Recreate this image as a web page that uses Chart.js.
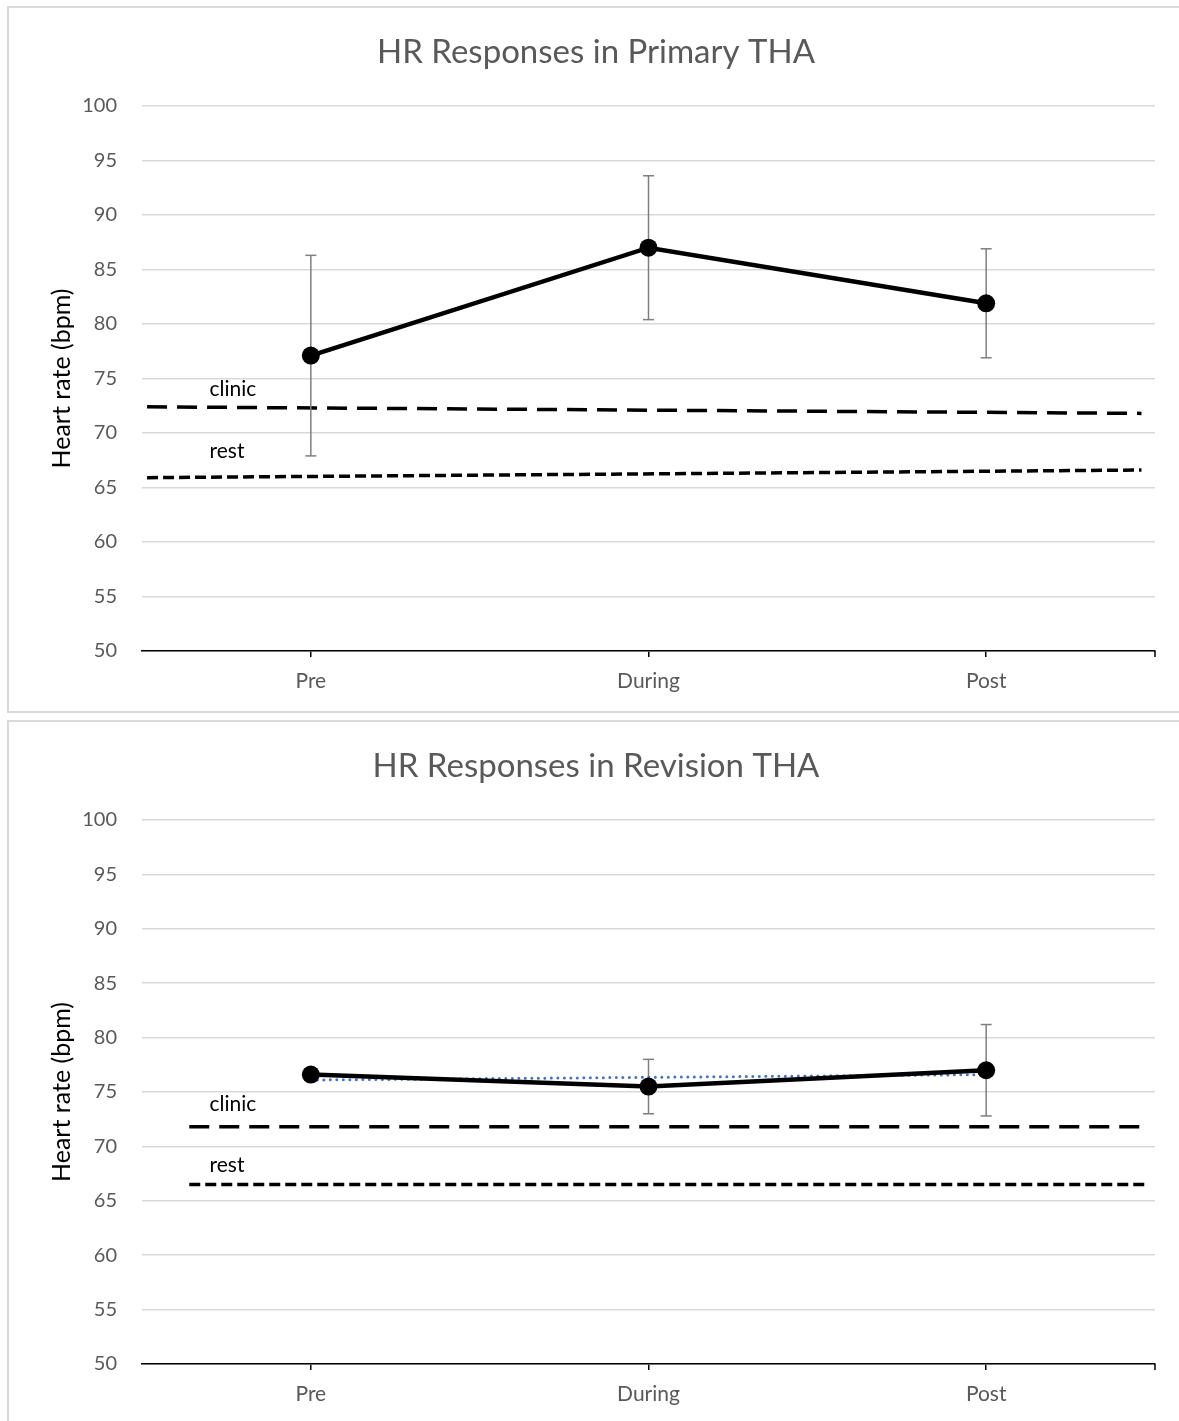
<!DOCTYPE html>
<html><head><meta charset="utf-8">
<script src="https://cdn.jsdelivr.net/npm/chart.js@4.4.0/dist/chart.umd.min.js"></script>
<style>
html,body{margin:0;padding:0;background:#fff;width:1179px;height:1421px;overflow:hidden;position:relative}
.box{position:absolute;left:7px;border:2px solid #d9d9d9;width:1300px;}
#b1{top:6px;height:703px}
#b2{top:720px;height:800px}
canvas{position:absolute;left:0}
#c1{top:0}
#c2{top:716px}
</style></head><body>
<div class="box" id="b1"></div><div class="box" id="b2"></div>
<canvas id="c1" width="1179" height="716"></canvas>
<canvas id="c2" width="1179" height="705"></canvas>
<script>
// ---- data ----
const categories = ['Pre', 'During', 'Post'];
const yTickMin = 50, yTickMax = 100, yTickStep = 5;

const primaryTitle = 'HR Responses in Primary THA';
const primaryMean = [77.1, 87.0, 81.9];
const primaryErr = [9.2, 6.6, 5.0];
const primaryClinic = [72.4, 71.8];
const primaryRest = [65.9, 66.6];
const primaryRefX = [-0.485, 2.46];
const primaryLabelY = [74.0, 68.35];

const revisionTitle = 'HR Responses in Revision THA';
const revisionMean = [76.6, 75.5, 77.0];
const revisionErr = [0.4, 2.5, 4.2];
const revisionTrend = [76.1, 76.35, 76.6];
const revisionClinic = [71.8, 71.8];
const revisionRest = [66.5, 66.5];
const revisionRefX = [-0.36, 2.48];
const revisionLabelY = [73.9, 68.3];

const refLabels = ['clinic', 'rest'];
const refLabelX = -0.3;
const yAxisTitle = 'Heart rate (bpm)';

// ---- drawing ----
const FONT = 'Lato, "Open Sans", sans-serif';

const labelPlugin = {
  id: 'refLabels',
  afterDatasetsDraw(chart, args, opts) {
    const ctx = chart.ctx, xs = chart.scales.x2, ys = chart.scales.y;
    ctx.save();
    ctx.font = '21px ' + FONT;
    ctx.fillStyle = '#000';
    ctx.textAlign = 'left';
    ctx.textBaseline = 'middle';
    opts.texts.forEach((t, i) => ctx.fillText(t, xs.getPixelForValue(opts.x), ys.getPixelForValue(opts.ys[i])));
    // end tick on x axis
    const a = chart.chartArea;
    ctx.strokeStyle = '#000'; ctx.lineWidth = 1.5;
    ctx.beginPath(); ctx.moveTo(a.right, a.bottom); ctx.lineTo(a.right, a.bottom + 6); ctx.stroke();
    // chart title, centred on the chart frame
    ctx.font = '33px ' + FONT;
    ctx.fillStyle = '#595959';
    ctx.textAlign = 'center';
    ctx.fillText(opts.title, opts.titleX, opts.titleY);
    ctx.restore();
  }
};

function build(id, title, mean, err, clinic, rest, refX, labelY, trend, dims) {
  const eb = [];
  mean.forEach((m, i) => { eb.push({x: i, y: m - err[i]}, {x: i, y: m + err[i]}, {x: i, y: null}); });
  const datasets = [{
    data: mean, xAxisID: 'x', yAxisID: 'y', borderColor: '#000', backgroundColor: '#000',
    borderWidth: 4.5, pointRadius: 9, pointBackgroundColor: '#000', pointBorderWidth: 0, tension: 0
  }];
  if (trend) datasets.push({
    data: trend, xAxisID: 'x', yAxisID: 'y', borderColor: '#4472c4', borderWidth: 3,
    borderDash: [0, 6.5], borderCapStyle: 'round', pointRadius: 0
  });
  datasets.push({
    data: eb, xAxisID: 'x2', yAxisID: 'y', borderColor: '#7f7f7f', borderWidth: 1.5, spanGaps: false,
    pointStyle: 'line', pointRadius: 5.5, pointBorderColor: '#7f7f7f', pointBorderWidth: 1.5
  });
  datasets.push({
    data: [{x: refX[0], y: clinic[0]}, {x: refX[1], y: clinic[1]}], xAxisID: 'x2', yAxisID: 'y',
    borderColor: '#000', borderWidth: 3.5, borderDash: [20, 10], pointRadius: 0
  });
  datasets.push({
    data: [{x: refX[0], y: rest[0]}, {x: refX[1], y: rest[1]}], xAxisID: 'x2', yAxisID: 'y',
    borderColor: '#000', borderWidth: 3.5, borderDash: [11, 5], pointRadius: 0
  });
  return new Chart(document.getElementById(id), {
    type: 'line',
    data: {labels: categories, datasets},
    plugins: [labelPlugin],
    options: {
      responsive: false, animation: false, devicePixelRatio: 1,
      layout: {padding: {top: dims.top, right: 24, left: 0, bottom: 0}},
      plugins: {
        legend: {display: false}, tooltip: {enabled: false}, title: {display: false},
        refLabels: {texts: refLabels, x: refLabelX, ys: labelY, title: title, titleX: 596, titleY: dims.ty}
      },
      scales: {
        x: {type: 'category', offset: true,
          grid: {display: true, drawOnChartArea: false, drawTicks: true, tickLength: 6, color: '#000', lineWidth: 1.5, offset: false},
          border: {display: true, color: '#000', width: 1.5},
          ticks: {color: '#595959', font: {family: FONT, size: 21}, padding: 12},
          afterFit: s => { s.height = dims.xh; }},
        x2: {type: 'linear', display: false, min: -0.5, max: 2.5},
        y: {min: yTickMin, max: yTickMax,
          ticks: {stepSize: yTickStep, color: '#595959', font: {family: FONT, size: 20}, padding: 25},
          grid: {color: '#d9d9d9', lineWidth: 1.5, drawTicks: false},
          border: {display: false},
          title: {display: true, text: yAxisTitle, color: '#000', font: {family: FONT, size: 25}, padding: {top: 47, bottom: 0}},
          afterFit: s => { s.width = 142; }}
      }
    }
  });
}

build('c1', primaryTitle, primaryMean, primaryErr, primaryClinic, primaryRest, primaryRefX, primaryLabelY, null,
  {top: 106, ty: 52, xh: 65});
build('c2', revisionTitle, revisionMean, revisionErr, revisionClinic, revisionRest, revisionRefX, revisionLabelY, revisionTrend,
  {top: 104, ty: 50, xh: 57});
</script>
</body></html>
